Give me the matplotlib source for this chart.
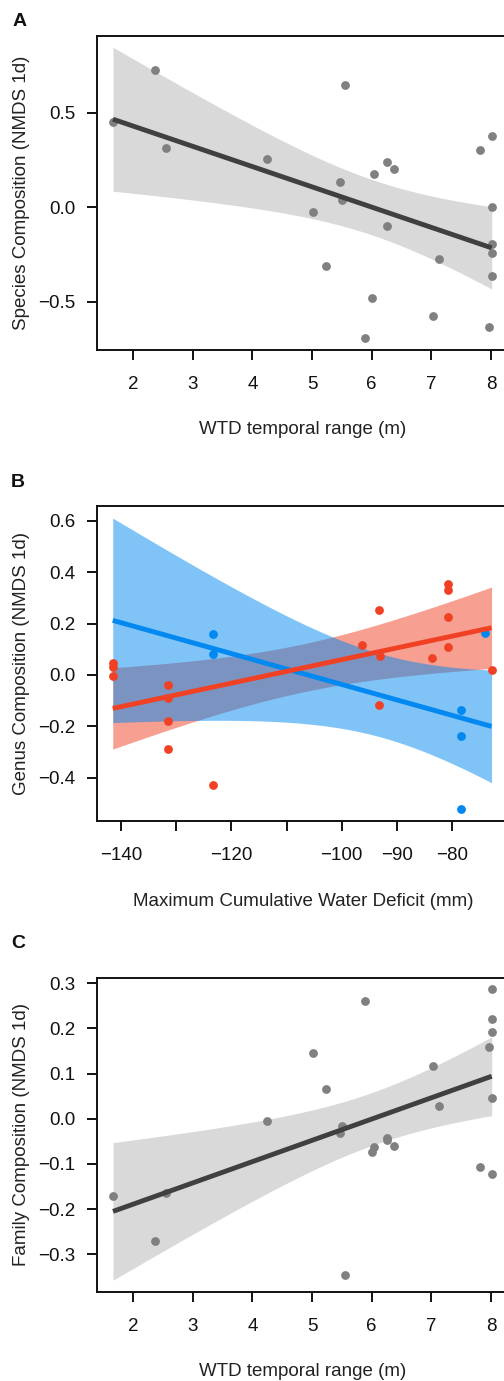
import numpy as np
import matplotlib
matplotlib.use("Agg")
import matplotlib.pyplot as plt
from matplotlib.ticker import FuncFormatter

plt.rcParams['font.family'] = ['Liberation Sans', 'DejaVu Sans']

# ---------------- data ----------------
# Panels A and C: WTD temporal range (m)
wtd_range = [1.665, 2.368, 2.558, 4.249, 5.013, 5.237, 5.466, 5.500, 5.560, 5.895,
             6.007, 6.046, 6.250, 6.250, 6.375, 7.030, 7.130, 7.810, 8.010, 8.010,
             8.010, 8.010, 8.010, 7.960]
species_nmds = [0.451, 0.728, 0.316, 0.257, -0.023, -0.310, 0.134, 0.037, 0.646, -0.691,
                -0.481, 0.178, 0.242, -0.097, 0.201, -0.573, -0.275, 0.305, 0.376, 0.005,
                -0.194, -0.240, -0.363, -0.631]
family_nmds = [-0.170, -0.270, -0.165, -0.005, 0.145, 0.066, -0.032, -0.017, -0.347, 0.261,
               -0.074, -0.062, -0.042, -0.046, -0.060, 0.117, 0.028, -0.106, 0.288, 0.221,
               0.193, 0.045, -0.123, 0.160]

# Panel B: Maximum Cumulative Water Deficit (mm), two groups
mcwd_red = [-141.45, -141.45, -141.45, -131.4, -131.4, -131.4, -131.4, -123.35, -96.3,
            -93.3, -93.0, -93.3, -83.67, -80.83, -80.83, -80.83, -80.83, -72.9]
genus_red = [0.048, 0.032, -0.006, -0.038, -0.088, -0.178, -0.290, -0.429, 0.118,
             0.253, 0.074, -0.118, 0.065, 0.353, 0.330, 0.227, 0.109, 0.018]
mcwd_blue = [-123.35, -123.35, -74.0, -78.5, -78.5, -78.5]
genus_blue = [0.160, 0.083, 0.165, -0.136, -0.236, -0.523]

x_ticks_ac = [2, 3, 4, 5, 6, 7, 8]
x_ticks_b = [-140, -130, -120, -110, -100, -90, -80]
x_ticklabels_b = ['\u2212140', '', '\u2212120', '', '\u2212100', '\u221290', '\u221280']
y_ticks_a = [-0.5, 0.0, 0.5]
y_ticks_b = [-0.4, -0.2, 0.0, 0.2, 0.4, 0.6]
y_ticks_c = [-0.3, -0.2, -0.1, 0.0, 0.1, 0.2, 0.3]

# t quantiles (0.975) for 95% confidence bands
T975 = {20: 2.0860, 22: 2.0739}

# ---------------- helpers ----------------
def ols(x, y):
    x = np.asarray(x, float); y = np.asarray(y, float)
    b, a = np.polyfit(x, y, 1)
    res = y - (a + b * x)
    return a, b, np.sum(res ** 2), x.mean(), np.sum((x - x.mean()) ** 2), len(x)

def band(fit, s, t, grid):
    a, b, _, xm, sxx, n = fit
    yhat = a + b * grid
    half = t * s * np.sqrt(1.0 / n + (grid - xm) ** 2 / sxx)
    return yhat, yhat - half, yhat + half

fmt1 = FuncFormatter(lambda v, p: f"{v:.1f}".replace('-', '\u2212'))

W, H = 504, 1381
fig = plt.figure(figsize=(W / 100, H / 100), dpi=100)
FS = 13.5

def make_axes(top_px, bottom_px):
    left_px, right_px = 97, 509
    return fig.add_axes([left_px / W, 1 - bottom_px / H,
                         (right_px - left_px) / W, (bottom_px - top_px) / H])

def style(ax):
    for sp in ax.spines.values():
        sp.set_linewidth(1.4)
        sp.set_color('#111111')
    ax.tick_params(direction='out', length=7.5, width=1.4, labelsize=FS,
                   color='#111111', labelcolor='#111111')
    ax.tick_params(axis='x', pad=11.5)
    ax.tick_params(axis='y', pad=8)

def labels(ax, xl, yl):
    ax.set_xlabel(xl, fontsize=FS, va='center', color='#222222')
    ax.set_ylabel(yl, fontsize=FS, va='center', color='#222222')
    ax.xaxis.set_label_coords(0.5, -80 / 314)
    ax.yaxis.set_label_coords((22 - 97) / 412, 0.5)

GREY_PT = '#808080'
GREY_LINE = '#404040'
GREY_BAND = '#D9D9D9'
LW = 3.5
MS = 40

def grey_panel(ax, x, y):
    x = np.asarray(x, float); y = np.asarray(y, float)
    fit = ols(x, y)
    s = np.sqrt(fit[2] / (len(x) - 2))
    grid = np.linspace(x.min(), x.max(), 200)
    yhat, lo, hi = band(fit, s, T975[len(x) - 2], grid)
    ax.fill_between(grid, lo, hi, color=GREY_BAND, lw=0, zorder=1)
    ax.scatter(x, y, s=MS, color=GREY_PT, lw=0, zorder=2)
    ax.plot(grid, yhat, color=GREY_LINE, lw=LW, solid_capstyle='butt', zorder=3)

# ---------------- Panel A ----------------
axA = make_axes(36, 350)
grey_panel(axA, wtd_range, species_nmds)
axA.set_xlim(1.397, 8.30)
axA.set_ylim(-0.754, 0.907)
axA.set_xticks(x_ticks_ac)
axA.set_yticks(y_ticks_a)
axA.yaxis.set_major_formatter(fmt1)
style(axA)
labels(axA, 'WTD temporal range (m)', 'Species Composition (NMDS 1d)')

# ---------------- Panel B ----------------
axB = make_axes(506, 821)
xr = np.asarray(mcwd_red, float); yr = np.asarray(genus_red, float)
xb = np.asarray(mcwd_blue, float); yb = np.asarray(genus_blue, float)
fit_r = ols(xr, yr)
fit_b = ols(xb, yb)
n_all = len(xr) + len(xb)
s_pool = np.sqrt((fit_r[2] + fit_b[2]) / (n_all - 4))
t_pool = T975[n_all - 4]
allx = np.concatenate([xr, xb])
gridB = np.linspace(allx.min(), allx.max(), 200)
yr_hat, yr_lo, yr_hi = band(fit_r, s_pool, t_pool, gridB)
yb_hat, yb_lo, yb_hi = band(fit_b, s_pool, t_pool, gridB)
RED = (241 / 255, 65 / 255, 37 / 255)
BLUE = (1 / 255, 137 / 255, 241 / 255)
axB.fill_between(gridB, yr_lo, yr_hi, color=RED, alpha=0.5, lw=0, zorder=1)
axB.fill_between(gridB, yb_lo, yb_hi, color=BLUE, alpha=0.5, lw=0, zorder=1.1)
axB.scatter(xr, yr, s=MS, color=RED, lw=0, zorder=2)
axB.scatter(xb, yb, s=MS, color=BLUE, lw=0, zorder=2)
axB.plot(gridB, yb_hat, color=BLUE, lw=LW, solid_capstyle='butt', zorder=3)
axB.plot(gridB, yr_hat, color=RED, lw=LW, solid_capstyle='butt', zorder=3.1)
axB.set_xlim(-144.3, -69.74)
axB.set_ylim(-0.569, 0.658)
axB.set_xticks(x_ticks_b)
axB.set_xticklabels(x_ticklabels_b)
axB.set_yticks(y_ticks_b)
axB.yaxis.set_major_formatter(fmt1)
style(axB)
labels(axB, 'Maximum Cumulative Water Deficit (mm)', 'Genus Composition (NMDS 1d)')

# ---------------- Panel C ----------------
axC = make_axes(977.7, 1291.7)
grey_panel(axC, wtd_range, family_nmds)
axC.set_xlim(1.397, 8.30)
axC.set_ylim(-0.383, 0.3125)
axC.set_xticks(x_ticks_ac)
axC.set_yticks(y_ticks_c)
axC.yaxis.set_major_formatter(fmt1)
style(axC)
labels(axC, 'WTD temporal range (m)', 'Family Composition (NMDS 1d)')

# panel letters
for lab, (px, py) in zip(['A', 'B', 'C'], [(20, 22), (18, 483), (18, 943)]):
    fig.text(px / W, 1 - py / H, lab, fontsize=14, fontweight='bold',
             ha='center', va='center', color='#111111')

fig.savefig('out.png', dpi=100)
